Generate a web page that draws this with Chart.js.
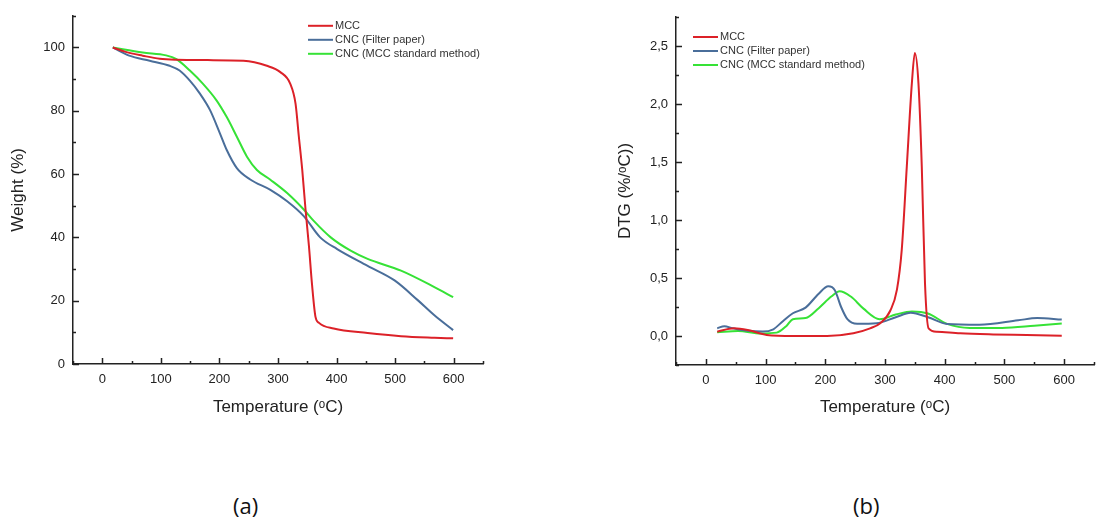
<!DOCTYPE html>
<html>
<head>
<meta charset="utf-8">
<script src="https://cdn.jsdelivr.net/npm/chart.js@4/dist/chart.umd.min.js"></script>
<style>
  body { margin: 0; background: #fff; }
  #page { position: relative; width: 1099px; height: 518px; overflow: hidden; background: #fff; }
  #tgaChart { position: absolute; left: 0; top: 0; }
  #dtgChart { position: absolute; left: 560px; top: 0; }
  .caption { position: absolute; top: 490px; font: 22px "Open Sans", "Liberation Sans", sans-serif; color: #111; }
</style>
</head>
<body>
<div id="page">
  <canvas id="tgaChart" width="500" height="420"></canvas>
  <canvas id="dtgChart" width="539" height="420"></canvas>
  <div class="caption" style="left:233px">(a)</div>
  <div class="caption" style="left:853px">(b)</div>
</div>
<script>
// --- labels
const seriesNames = ["MCC", "CNC (Filter paper)", "CNC (MCC standard method)"];
const seriesColors = ["#dc2128", "#4a6e9a", "#36e236"];

// --- ticks
const tempTicks = [0, 100, 200, 300, 400, 500, 600];
const weightTicks = [0, 20, 40, 60, 80, 100];
const dtgTicks = [0, 0.5, 1.0, 1.5, 2.0, 2.5];

// --- (a) TGA, weight %
const tgaMccT = [18, 40, 69, 98, 127, 180, 241, 281, 304, 321, 330, 335.6, 341.4, 347, 352.8, 358, 364, 370, 395, 453, 510, 567, 599];
const tgaMccW = [100, 98.6, 97.4, 96.4, 96.1, 96.0, 95.8, 94.2, 92.2, 88.5, 82.2, 71.8, 61.3, 48.8, 37.3, 25.3, 14.9, 13, 11.2, 9.8, 8.8, 8.3, 8.1];

const tgaFilterT = [18, 46, 81, 115, 132, 149.5, 166.7, 184, 201, 212.5, 229.7, 252.6, 287, 315.6, 344, 372, 401, 453, 499, 539, 567, 599];
const tgaFilterW = [100, 97.4, 95.8, 94.2, 92.7, 89.5, 85.4, 80.2, 72.8, 67.6, 61.9, 58.3, 55, 51.4, 46.7, 40, 36.3, 31, 26.4, 20.1, 15.4, 10.7];

const tgaStdT = [18, 69, 109, 126.6, 149.5, 172, 195, 212.5, 229.7, 247, 264, 287, 315.6, 344, 361, 390, 424, 453, 510, 567, 599];
const tgaStdW = [100, 98.4, 97.5, 96.3, 92.7, 88.5, 83.3, 78, 71.8, 65.5, 61.3, 58.2, 54, 48.8, 45.2, 40, 35.8, 33.2, 29.5, 24.3, 21.1];

// --- (b) DTG, %/oC
const dtgMccT = [19, 47, 70, 102, 147, 203, 247, 275, 292, 309, 320, 328, 336.5, 345, 350, 356, 361.6, 367, 373, 387, 426, 481, 537, 596];
const dtgMccV = [0.037, 0.066, 0.052, 0.009, 0.0, 0.0, 0.023, 0.066, 0.11, 0.22, 0.40, 0.74, 1.46, 2.18, 2.44, 2.18, 1.46, 0.45, 0.066, 0.037, 0.023, 0.014, 0.009, 0.003];

const dtgFilterT = [19, 31, 45, 70, 95, 113, 129.5, 145.7, 167, 189, 205, 216, 226.5, 237, 253.5, 286, 318, 343, 372, 404, 458, 523, 555, 596];
const dtgFilterV = [0.066, 0.085, 0.066, 0.045, 0.038, 0.058, 0.13, 0.196, 0.245, 0.365, 0.428, 0.395, 0.25, 0.145, 0.105, 0.11, 0.162, 0.2, 0.162, 0.104, 0.097, 0.135, 0.155, 0.142];

const dtgStdT = [19, 54, 92, 118.7, 135, 145.7, 167, 189, 210, 224, 242.7, 264, 291, 318, 345, 372, 404, 442, 496, 550, 596];
const dtgStdV = [0.032, 0.043, 0.022, 0.029, 0.087, 0.145, 0.155, 0.24, 0.34, 0.386, 0.34, 0.236, 0.145, 0.185, 0.212, 0.194, 0.105, 0.07, 0.07, 0.088, 0.107];

const FONT = '"Liberation Sans", Arial, sans-serif';

function toPoints(xs, ys) {
  return xs.map((x, i) => ({ x: x, y: ys[i] }));
}

function makeDataset(i, xs, ys) {
  return {
    label: seriesNames[i],
    data: toPoints(xs, ys),
    borderColor: seriesColors[i],
    backgroundColor: seriesColors[i],
    borderWidth: 2,
    showLine: true,
    pointRadius: 0,
    cubicInterpolationMode: "monotone",
    fill: false
  };
}

// ticks pointing into the plot, major + minor
const innerTicks = {
  id: "innerTicks",
  afterDraw(chart, args, opts) {
    const ctx = chart.ctx;
    const xs = chart.scales.x;
    const ys = chart.scales.y;
    const area = chart.chartArea;
    ctx.save();
    ctx.strokeStyle = "#222";
    ctx.lineWidth = 1.5;
    ctx.beginPath();
    const xTicks = opts.xTicks;
    const xStep = xTicks[1] - xTicks[0];
    for (let v = xTicks[0] - xStep / 2; v <= xs.max; v += xStep / 2) {
      if (v < xs.min) continue;
      const major = xTicks.some(t => Math.abs(t - v) < 1e-9);
      const px = Math.round(xs.getPixelForValue(v)) + 0.5;
      ctx.moveTo(px, area.bottom);
      ctx.lineTo(px, area.bottom - (major ? 6 : 3));
    }
    const yTicks = opts.yTicks;
    const yStep = yTicks[1] - yTicks[0];
    for (let v = yTicks[0] - yStep / 2; v <= ys.max + 1e-9; v += yStep / 2) {
      if (v < ys.min - 1e-9) continue;
      const major = yTicks.some(t => Math.abs(t - v) < 1e-9);
      const py = Math.round(ys.getPixelForValue(v)) + 0.5;
      ctx.moveTo(area.left, py);
      ctx.lineTo(area.left + (major ? 6 : 3), py);
    }
    ctx.stroke();
    ctx.restore();
  }
};

// small legend drawn inside the plot
const innerLegend = {
  id: "innerLegend",
  afterDraw(chart, args, opts) {
    const ctx = chart.ctx;
    const area = chart.chartArea;
    const x0 = area.left + opts.dx;
    let y = area.top + opts.dy;
    ctx.save();
    ctx.font = "11px " + FONT;
    ctx.textBaseline = "middle";
    chart.data.datasets.forEach(ds => {
      ctx.strokeStyle = ds.borderColor;
      ctx.lineWidth = 2;
      ctx.beginPath();
      ctx.moveTo(x0, y);
      ctx.lineTo(x0 + 25, y);
      ctx.stroke();
      ctx.fillStyle = "#333";
      ctx.fillText(ds.label, x0 + 27, y);
      y += 14;
    });
    ctx.restore();
  }
};

function axisOptions(cfg) {
  return {
    x: {
      type: "linear",
      min: -50,
      max: 650,
      grid: { display: false, drawTicks: false },
      border: { display: true, color: "#222", width: 1.5 },
      ticks: { includeBounds: false, padding: 8, color: "#222", font: { family: FONT, size: 13 }, maxRotation: 0 },
      afterBuildTicks: scale => { scale.ticks = tempTicks.map(v => ({ value: v })); },
      afterFit: scale => { scale.height = cfg.xHeight; },
      title: { display: true, text: "Temperature (ᵒC)", color: "#222", font: { family: FONT, size: 17 }, padding: { top: 0, bottom: 2 } }
    },
    y: {
      type: "linear",
      min: cfg.yMin,
      max: cfg.yMax,
      grid: { display: false, drawTicks: false },
      border: { display: true, color: "#222", width: 1.5 },
      ticks: { includeBounds: false, padding: 8, color: "#222", font: { family: FONT, size: 13 }, callback: cfg.yFormat },
      afterBuildTicks: scale => { scale.ticks = cfg.yTicks.map(v => ({ value: v })); },
      afterFit: scale => { scale.width = cfg.yWidth; },
      title: { display: true, text: cfg.yTitle, color: "#222", font: { family: FONT, size: 17 }, padding: { top: cfg.yTitlePad, bottom: 0 } }
    }
  };
}

new Chart(document.getElementById("tgaChart"), {
  type: "scatter",
  data: {
    datasets: [
      makeDataset(0, tgaMccT, tgaMccW),
      makeDataset(1, tgaFilterT, tgaFilterW),
      makeDataset(2, tgaStdT, tgaStdW)
    ]
  },
  options: {
    responsive: false,
    animation: false,
    layout: { padding: { top: 13, right: 17, left: 0, bottom: 0 } },
    plugins: {
      legend: { display: false },
      tooltip: { enabled: false },
      innerTicks: { xTicks: tempTicks, yTicks: weightTicks },
      innerLegend: { dx: 235, dy: 10 }
    },
    scales: axisOptions({
      yMin: 0, yMax: 110, yTicks: weightTicks, yWidth: 73, yTitle: "Weight (%)", yTitlePad: 8,
      xHeight: 56, yFormat: v => String(v)
    })
  },
  plugins: [innerTicks, innerLegend]
});

new Chart(document.getElementById("dtgChart"), {
  type: "scatter",
  data: {
    datasets: [
      makeDataset(0, dtgMccT, dtgMccV),
      makeDataset(1, dtgFilterT, dtgFilterV),
      makeDataset(2, dtgStdT, dtgStdV)
    ]
  },
  options: {
    responsive: false,
    animation: false,
    layout: { padding: { top: 17, right: 5, left: 0, bottom: 0 } },
    plugins: {
      legend: { display: false },
      tooltip: { enabled: false },
      innerTicks: { xTicks: tempTicks, yTicks: dtgTicks },
      innerLegend: { dx: 17, dy: 20 }
    },
    scales: axisOptions({
      yMin: -0.25, yMax: 2.75, yTicks: dtgTicks, yWidth: 116, yTitle: "DTG (%/ᵒC))", yTitlePad: 55,
      xHeight: 55, yFormat: v => Number(v).toFixed(1).replace(".", ",")
    })
  },
  plugins: [innerTicks, innerLegend]
});
</script>
</body>
</html>
